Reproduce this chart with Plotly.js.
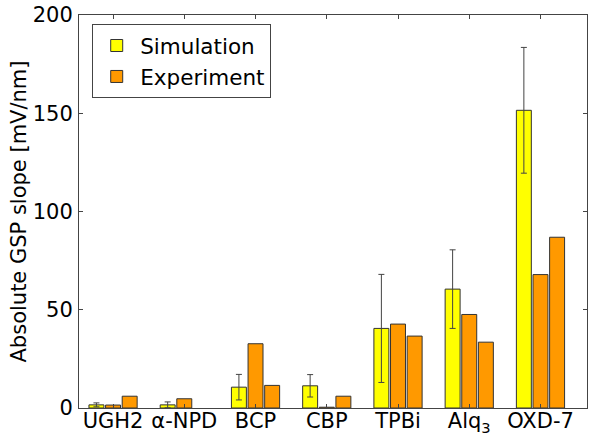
<!DOCTYPE html>
<html>
<head>
<meta charset="utf-8">
<script src="https://cdn.plot.ly/plotly-3.0.1.min.js"></script>
<style>html,body{margin:0;padding:0;background:#fff;}#chart{width:590px;height:435px;}</style>
</head>
<body>
<div id="chart"></div>
<script>
var categories = ['UGH2', 'α-NPD', 'BCP', 'CBP', 'TPBi', 'Alq<sub>3</sub>', 'OXD-7'];
var simulation = [1.6, 1.6, 10.6, 11.3, 40.5, 60.5, 151.5];
var simulationErr = [1.0, 1.5, 6.5, 5.7, 27.5, 20.0, 32.0];
var experiment1 = [1.5, 4.7, 32.7, 0.4, 42.7, 47.6, 67.9];
var experiment2 = [6.0, null, 11.5, 6.0, 36.6, 33.5, 86.9];

var lineStyle = {color: '#333333', width: 1};
var traces = [
  {
    type: 'bar', name: 'Simulation', x: categories, y: simulation,
    marker: {color: '#ffff00', line: lineStyle},
    error_y: {type: 'data', array: simulationErr, visible: true, color: '#444444', thickness: 1, width: 3}
  },
  {
    type: 'bar', name: 'Experiment', x: categories, y: experiment1,
    marker: {color: '#ff9900', line: lineStyle}
  },
  {
    type: 'bar', name: 'Experiment 2', x: categories, y: experiment2, showlegend: false,
    marker: {color: '#ff9900', line: lineStyle}
  }
];

var font = {family: 'DejaVu Sans', size: 21, color: '#000'};
var layout = {
  width: 590, height: 435,
  margin: {l: 79, r: 3, t: 15, b: 27},
  paper_bgcolor: '#fff', plot_bgcolor: '#fff',
  font: font,
  barmode: 'group', bargap: 0.3, bargroupgap: 0.1,
  showlegend: true,
  legend: {
    x: 0.026, y: 0.977, xanchor: 'left', yanchor: 'top',
    bordercolor: '#444', borderwidth: 1, bgcolor: '#fff',
    font: {family: 'DejaVu Sans', size: 21.5, color: '#000'},
    tracegroupgap: 0, itemwidth: 37
  },
  xaxis: {
    type: 'category', range: [-0.478, 6.653],
    showline: true, linecolor: '#444', linewidth: 1, mirror: 'ticks',
    ticks: 'inside', ticklen: 4, tickcolor: '#444', showgrid: false,
    tickfont: font, zeroline: false, ticklabelstandoff: -6, automargin: false
  },
  yaxis: {
    range: [0, 200], tickvals: [0, 50, 100, 150, 200],
    showline: true, linecolor: '#444', linewidth: 1, mirror: 'ticks',
    ticks: 'inside', ticklen: 4, tickcolor: '#444', showgrid: false,
    zeroline: false, tickfont: font, ticklabelstandoff: 1, automargin: false,
    title: {text: 'Absolute GSP slope [mV/nm]', font: font, standoff: 0}
  }
};

Plotly.newPlot('chart', traces, layout, {displayModeBar: false, staticPlot: true});
</script>
</body>
</html>
